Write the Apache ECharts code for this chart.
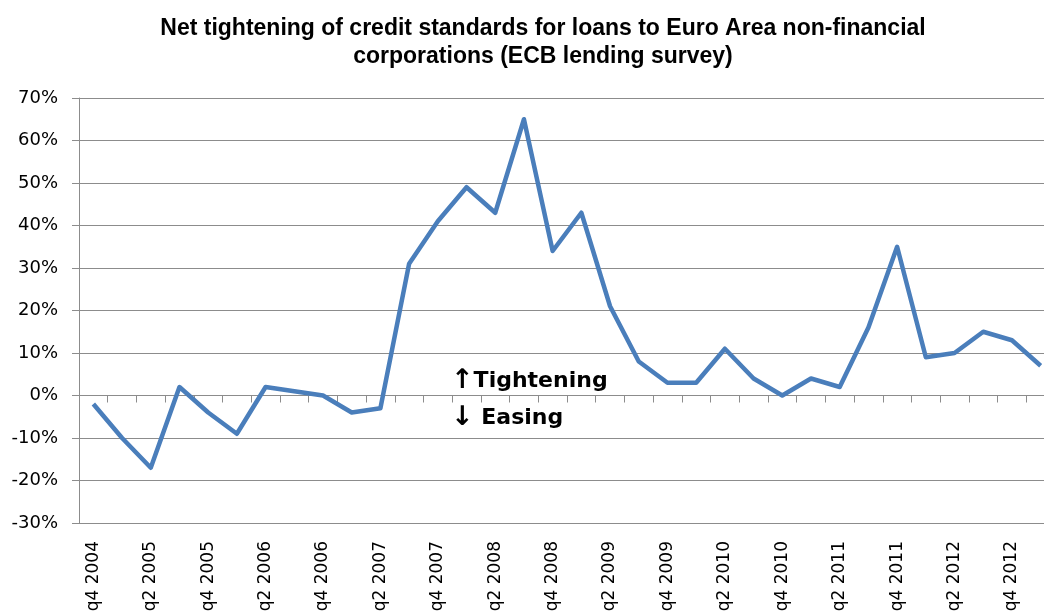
<!DOCTYPE html>
<html>
<head>
<meta charset="utf-8">
<script src="https://cdn.jsdelivr.net/npm/echarts@6/dist/echarts.min.js"></script>
<style>
html,body{margin:0;padding:0;background:#fff;overflow:hidden;width:1044px;height:616px;}
#chart{width:1055px;height:616px;}
</style>
</head>
<body>
<div id="chart"></div>
<script>
const titleText = 'Net tightening of credit standards for loans to Euro Area non-financial\ncorporations (ECB lending survey)';
const quarters = [
  'q4 2004','q1 2005','q2 2005','q3 2005','q4 2005','q1 2006','q2 2006','q3 2006','q4 2006',
  'q1 2007','q2 2007','q3 2007','q4 2007','q1 2008','q2 2008','q3 2008','q4 2008',
  'q1 2009','q2 2009','q3 2009','q4 2009','q1 2010','q2 2010','q3 2010','q4 2010',
  'q1 2011','q2 2011','q3 2011','q4 2011','q1 2012','q2 2012','q3 2012','q4 2012','q1 2013'
];
const netTightening = [
  -2, -10, -17, 2, -4, -9, 2, 1, 0,
  -4, -3, 31, 41, 49, 43, 65, 34,
  43, 21, 8, 3, 3, 11, 4, 0,
  4, 2, 16, 35, 9, 10, 15, 13, 7
];
const yMin = -30, yMax = 70, yStep = 10;
const upLabel = '{a|\u2191}Tightening';
const downLabel = '{a|\u2193} Easing';

const gridColor = '#8c8c8c';
const arrowStyle = { fontFamily: 'DejaVu Sans', fontWeight: 'bold', fontSize: 27, fill: '#000' };
const chart = echarts.init(document.getElementById('chart'));
chart.setOption({
  animation: false,
  backgroundColor: '#fff',
  title: {
    text: titleText,
    left: 538, top: 10, textAlign: 'center',
    textStyle: { fontFamily: 'Liberation Sans', fontWeight: 'bold', fontSize: 23, lineHeight: 28, color: '#000' }
  },
  grid: { left: 79, top: 98, right: 0, height: 425, containLabel: false },
  xAxis: [
    {
      type: 'category', data: quarters, boundaryGap: true, position: 'bottom',
      axisLine: { onZero: false, show: false },
      axisTick: { show: false },
      axisLabel: { interval: 1, rotate: 90, margin: 18, fontFamily: 'DejaVu Sans', fontSize: 17, color: '#000' },
      splitLine: { show: false }
    },
    {
      type: 'category', data: quarters, boundaryGap: true, position: 'bottom',
      axisLine: { onZero: true, show: true, lineStyle: { color: gridColor, width: 1 } },
      axisTick: { show: true, interval: 0, length: 7, inside: false, lineStyle: { color: gridColor } },
      axisLabel: { show: false },
      splitLine: { show: false }
    }
  ],
  yAxis: {
    type: 'value', min: yMin, max: yMax, interval: yStep,
    axisLine: { show: true, lineStyle: { color: gridColor, width: 1 } },
    axisTick: { show: true, length: 7, lineStyle: { color: gridColor } },
    axisLabel: { formatter: '{value}%', margin: 21, fontFamily: 'DejaVu Sans', fontSize: 18, color: '#000' },
    splitLine: { show: true, lineStyle: { color: gridColor, width: 1 } }
  },
  graphic: [
    { type: 'text', x: 451, y: 381, style: { text: upLabel, rich: { a: arrowStyle }, fontFamily: 'DejaVu Sans', fontWeight: 'bold', fontSize: 22, fill: '#000', verticalAlign: 'middle' } },
    { type: 'text', x: 451, y: 418, style: { text: downLabel, rich: { a: arrowStyle }, fontFamily: 'DejaVu Sans', fontWeight: 'bold', fontSize: 22, fill: '#000', verticalAlign: 'middle' } }
  ],
  series: [{
    type: 'line', data: netTightening, xAxisIndex: 1,
    symbol: 'none', smooth: false,
    lineStyle: { color: '#4a7ebb', width: 4.5, join: 'round' },
    z: 5
  }]
});
</script>
</body>
</html>
